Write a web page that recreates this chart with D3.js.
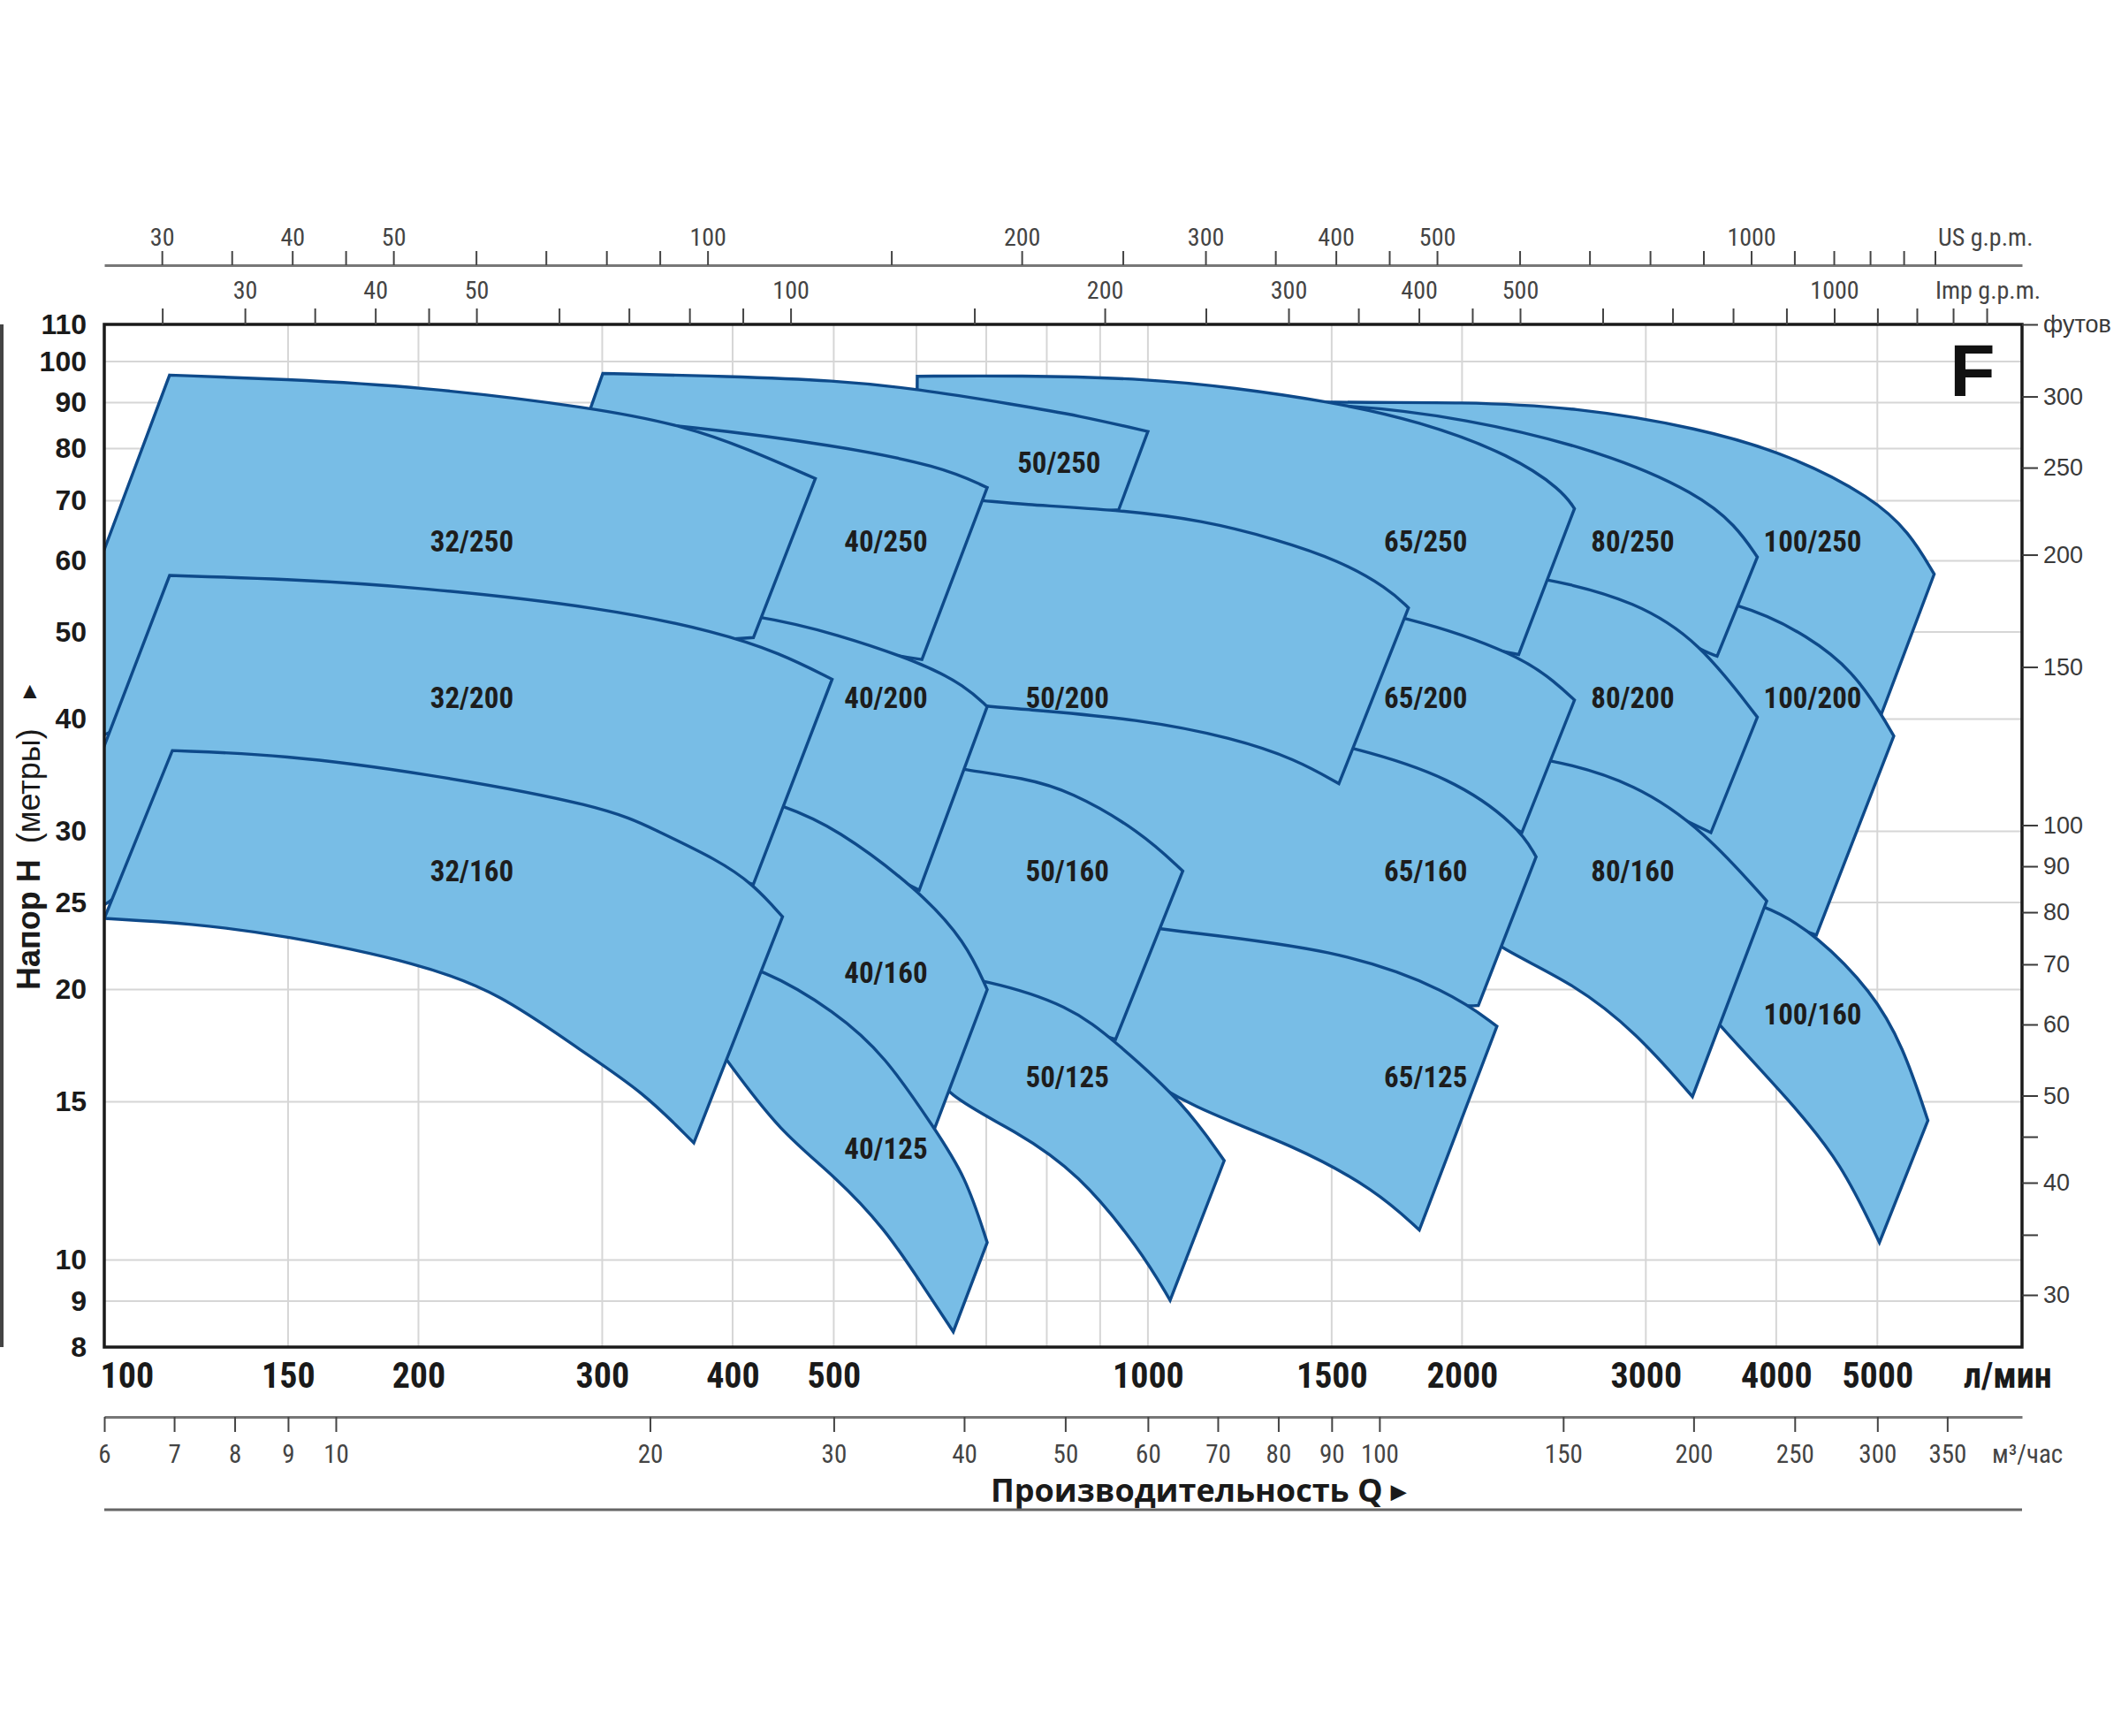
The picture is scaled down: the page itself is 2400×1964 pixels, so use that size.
<!DOCTYPE html>
<html>
<head>
<meta charset="utf-8">
<script src="https://cdn.jsdelivr.net/npm/d3@7"></script>
<style>
  body { margin: 0; background: #fff; }
</style>
</head>
<body>
<svg id="chart" width="2400" height="1964"></svg>
<script>
// ---- pump fields: [Q l/min, H m], top = max impeller, bot = right-bottom .. left-bottom
const top_32_250 = [[115.5,96.6],[148.4,95.6],[200.6,93.8],[294.2,88.9],[361.2,84.7],[414.1,79.9],[480.1,74.1]];
const bot_32_250 = [[418.8,49.3],[300,48],[200,48.5],[125,46],[100,37.3],[85,37.3]];
const top_32_200 = [[115.5,57.8],[148.4,57.3],[200.6,56.1],[302.3,53.2],[386.8,50.0],[443.6,47.4],[498.2,44.3]];
const bot_32_200 = [[418.8,26.2],[330,28],[250,30.5],[150,33],[118,30],[100,24],[86.4,24]];
const top_32_160 = [[116.2,36.9],[148.4,36.5],[200.6,34.9],[302.3,32.0],[337.3,30.1],[386.8,27.9],[418.8,26.2],[446.6,24.1]];
const bot_32_160 = [[367.2,13.5],[328.1,15.4],[286.2,17.1],[239.6,19.8],[200.6,21.4],[148.4,23.0],[120.9,23.7],[100,24.0]];

const top_40_250 = [[290,86.5],[361.3,84.8],[501.7,80.7],[633.1,76.5],[701.5,72.4]];
const bot_40_250 = [[607.4,46.6],[500,48.2],[420,51],[330,50],[270,45]];
const top_40_200 = [[330,54],[428.7,52.1],[501.7,49.8],[607.8,46.2],[668.9,43.5],[701.5,41.3]];
const bot_40_200 = [[603.8,25.8],[501.7,28.8],[449.7,31.5],[400,33],[330,40]];
const top_40_160 = [[380,34],[449.7,32.0],[501.7,30.3],[603.8,25.8],[668.9,22.6],[701.5,20.0]];
const bot_40_160 = [[624.5,14.0],[559.8,16.0],[501.7,18.0],[428.7,20.2],[380,24]];
const top_40_125 = [[370,22],[428.7,21.1],[501.7,18.9],[559.8,16.9],[624.5,14.0],[668.9,12.4],[701.5,10.46]];
const bot_40_125 = [[650.9,8.32],[607.6,9.39],[559.8,10.84],[501.7,12.39],[443.6,13.92],[397.7,16.5],[370,18.5]];

const top_50_250 = [[300.4,97.0],[397.7,96.3],[501.7,95.3],[599.4,93.3],[747.9,89.5],[857.9,87.1],[1000,83.6]];
const bot_50_250 = [[937.6,68.4],[800,67.5],[701.5,68.6],[620,65],[258,58.8]];
const top_50_200 = [[560,71.5],[701.5,70.0],[747.9,69.4],[937.6,68.4],[1128,66.6],[1329,63.4],[1524,60.1],[1700,55.9],[1777,53.2]];
const bot_50_200 = [[1524,33.9],[1385,36.1],[1208,38.1],[983.7,40.0],[747.9,41.1],[701.5,41.3],[640,42],[560,40]];
const top_50_160 = [[600,36],[668.9,35.1],[760,34.4],[841.6,33.3],[983.7,30.0],[1080,27.1]];
const bot_50_160 = [[931.1,17.6],[841.6,18.3],[701.5,19.4],[620,22],[600,25]];
const top_50_125 = [[600,21],[701.5,20.5],[841.6,19.2],[931.1,17.5],[1083,14.95],[1183.4,12.9]];
const bot_50_125 = [[1050.2,9.02],[983.3,10.27],[857.9,12.5],[747.9,13.92],[641.9,15.2],[600,17]];

const top_65_250 = [[601.2,96.3],[747.9,96.5],[1008,95.7],[1208,93.5],[1483,90.4],[1820,85.9],[2235,78.6],[2494,71.9],[2563,68.6]];
const bot_65_250 = [[2266,47.2],[2000,48.6],[1777,50.8],[1500,55],[1000,60],[700,62],[599.4,62]];
const top_65_200 = [[1000,58],[1400,54.5],[1777,52.1],[2266,47.2],[2460,43.9],[2563,42.0]];
const bot_65_200 = [[2282,29.9],[2000,32.8],[1577,36.3],[1200,42],[1000,45]];
const top_65_160 = [[640,43],[900,42.5],[1300,39],[1577.6,37.2],[1950,34.5],[2266,30.4],[2355,28.1]];
const bot_65_160 = [[2073,19.2],[1950,19.1],[1524,21.4],[1031.8,22.5],[900,25],[700,32],[640,37]];
const top_65_125 = [[880,24],[1031.8,23.3],[1524,22.2],[1950,19.9],[2160,18.2]];
const bot_65_125 = [[1820,10.8],[1654,11.96],[1385,13.4],[1097.3,14.8],[950,16.5],[880,18]];

const top_80_250 = [[1200,90],[1524,89.8],[2004,86.7],[2744,79.3],[3370,71.2],[3658,65.7],[3837,60.6]];
const bot_80_250 = [[3511,47.0],[3370,47.8],[2939,52.8],[2426,56.2],[2000,60],[1200,62]];
const top_80_200 = [[1800,60],[2426,57.5],[2939,54.0],[3370,48.9],[3837,40.2]];
const bot_80_200 = [[3463,29.9],[2939,32.8],[2433,35.2],[2100,40],[1800,45]];
const top_80_160 = [[2000,37],[2433,36.2],[2939,33.9],[3415,30.0],[3917,25.1]];
const bot_80_160 = [[3325,15.2],[2939,17.9],[2563,20.3],[2175,22.2],[2000,24]];

const top_100_250 = [[1100,91],[1524,89.9],[2004,90.2],[2563,89.0],[3370,84.4],[4140,78.6],[4942,70.6],[5366,64.6],[5668,58.0]];
const bot_100_250 = [[5044,40.5],[4745,44.0],[4311,48.2],[3698,52.7],[3000,57],[2000,60],[1100,62]];
const top_100_200 = [[3000,56],[3698,54.0],[4311,49.4],[4745,45.1],[5044,40.5],[5185,38.3]];
const bot_100_200 = [[4371,23.0],[3917,24.0],[3500,27],[3000,30]];
const top_100_160 = [[3300,26],[3917,24.9],[4371,23.0],[4942,19.9],[5292,17.3],[5590,14.3]];
const bot_100_160 = [[5023,10.46],[4616,12.84],[4140,14.95],[3535,18.2],[3300,20]];

// drawing order: bottom layer first
const pumps = [
  [top_100_250, bot_100_250], [top_100_200, bot_100_200], [top_100_160, bot_100_160],
  [top_80_250, bot_80_250], [top_80_200, bot_80_200], [top_80_160, bot_80_160],
  [top_65_250, bot_65_250], [top_65_200, bot_65_200], [top_65_160, bot_65_160], [top_65_125, bot_65_125],
  [top_50_250, bot_50_250], [top_50_200, bot_50_200], [top_50_160, bot_50_160], [top_50_125, bot_50_125],
  [top_40_250, bot_40_250], [top_40_200, bot_40_200], [top_40_160, bot_40_160], [top_40_125, bot_40_125],
  [top_32_250, bot_32_250], [top_32_200, bot_32_200], [top_32_160, bot_32_160]
];

const pumpLabels = [
  ["32/250",225,63.2], ["40/250",561,63.2], ["50/250",822,77.2], ["65/250",1846,63.2], ["80/250",2914,63.2], ["100/250",4334,63.2],
  ["32/200",225,42.3], ["40/200",561,42.3], ["50/200",837,42.3], ["65/200",1846,42.3], ["80/200",2914,42.3], ["100/200",4334,42.3],
  ["32/160",225,27.1], ["50/160",837,27.1], ["65/160",1846,27.1], ["80/160",2914,27.1],
  ["40/160",561,20.9], ["100/160",4334,18.8],
  ["50/125",837,16.0], ["65/125",1846,16.0], ["40/125",561,13.3]
];

// ---- axes
const lpmTicks = [100,150,200,300,400,500,1000,1500,2000,3000,4000,5000];
const gridQ = [150,200,300,400,500,600,700,800,900,1000,1500,2000,3000,4000,5000];
const headTicks = [110,100,90,80,70,60,50,40,30,25,20,15,10,9,8];
const gridH = [100,90,80,70,60,50,40,30,25,20,15,10,9];
const feetTicks = [300,250,200,150,100,90,80,70,60,50,45,40,35,30];
const feetLabels = [300,250,200,150,100,90,80,70,60,50,40,30];
const m3hTicks = [6,7,8,9,10,20,30,40,50,60,70,80,90,100,150,200,250,300,350];
const usTicks = [30,35,40,45,50,60,70,80,90,100,150,200,250,300,350,400,450,500,600,700,800,900,1000,1100,1200,1300,1400,1500];
const usLabels = [30,40,50,100,200,300,400,500,1000];
const impTicks = [25,30,35,40,45,50,60,70,80,90,100,150,200,250,300,350,400,450,500,600,700,800,900,1000,1100,1200,1300,1400];
const impLabels = [30,40,50,100,200,300,400,500,1000];

const LPM_PER_USGPM = 3.785, LPM_PER_IMPGPM = 4.546, M3H_PER_LPM = 0.06, FT_PER_M = 3.2808;

const narrow = "'Liberation Sans Narrow', 'Arial Narrow', 'Roboto Condensed', 'DejaVu Sans Condensed', sans-serif";
const plain = "'Liberation Sans', Arial, sans-serif";

const L = 118, R = 2288, T = 367, B = 1524;
const x = d3.scaleLog().domain([100, 6880]).range([L, R]);
const y = d3.scaleLog().domain([8, 110]).range([B, T]);
const xUS = d3.scaleLog().domain(x.domain().map(q => q / LPM_PER_USGPM)).range(x.range());
const xImp = d3.scaleLog().domain(x.domain().map(q => q / LPM_PER_IMPGPM)).range(x.range());
const xM3 = d3.scaleLog().domain(x.domain().map(q => q * M3H_PER_LPM)).range(x.range());
const yFt = d3.scaleLog().domain(y.domain().map(h => h * FT_PER_M)).range(y.range());

const svg = d3.select("#chart");

svg.append("defs").append("clipPath").attr("id", "plot")
  .append("rect").attr("x", L).attr("y", T).attr("width", R - L).attr("height", B - T);

// grid
const grid = svg.append("g").attr("stroke", "#d6d6d6").attr("stroke-width", 2);
grid.selectAll(".gx").data(gridQ).join("line")
  .attr("x1", d => x(d)).attr("x2", d => x(d)).attr("y1", T).attr("y2", B);
grid.selectAll(".gy").data(gridH).join("line")
  .attr("y1", d => y(d)).attr("y2", d => y(d)).attr("x1", L).attr("x2", R);

// pump fields: smooth curves for impeller lines, straight edges between them
const curve = d3.line()
  .x(d => x(d[0])).y(d => y(d[1]))
  .curve(d3.curveBasis);
function outline(top, bottom) {
  return curve(top) + curve(bottom).replace(/^M/, "L") + "Z";
}
svg.append("g").attr("clip-path", "url(#plot)")
  .selectAll("path").data(pumps).join("path")
  .attr("d", d => outline(d[0], d[1]))
  .attr("fill", "#78bde6")
  .attr("stroke", "#0e4a8a")
  .attr("stroke-width", 3.4)
  .attr("stroke-linejoin", "miter");

svg.append("g").selectAll("text").data(pumpLabels).join("text")
  .attr("x", d => x(d[1])).attr("y", d => y(d[2]))
  .attr("dy", "0.36em")
  .attr("text-anchor", "middle")
  .attr("font-family", narrow).attr("font-weight", "bold").attr("font-size", 33)
  .attr("fill", "#1d1d1d")
  .text(d => d[0]);

// frame
svg.append("rect").attr("x", L).attr("y", T).attr("width", R - L).attr("height", B - T)
  .attr("fill", "none").attr("stroke", "#1a1a1a").attr("stroke-width", 3.5);
svg.append("rect").attr("x", 0).attr("y", T).attr("width", 4).attr("height", B - T).attr("fill", "#444");

// left: head in metres
svg.append("g").attr("transform", `translate(${L},0)`)
  .call(d3.axisLeft(y).tickValues(headTicks).tickFormat(d3.format("d")).tickSize(0).tickPadding(20))
  .attr("font-family", plain).attr("font-weight", "bold").attr("font-size", 32).attr("color", "#1a1a1a")
  .call(g => g.select(".domain").remove());

// right: feet
svg.append("g").attr("transform", `translate(${R},0)`)
  .call(d3.axisRight(yFt).tickValues([yFt.domain()[1], ...feetTicks])
    .tickFormat(d => d === yFt.domain()[1] ? "футов" : (feetLabels.includes(d) ? d : ""))
    .tickSize(18).tickPadding(6))
  .attr("font-family", plain).attr("font-size", 27).attr("color", "#3a3a3a")
  .call(g => g.select(".domain").remove())
  .call(g => g.selectAll(".tick line").attr("stroke-width", 2));

// top: US g.p.m.
svg.append("g").attr("transform", "translate(0,300)")
  .call(d3.axisTop(xUS).tickValues(usTicks).tickFormat(d => usLabels.includes(d) ? d : "")
    .tickSize(16).tickSizeOuter(0).tickPadding(6))
  .attr("font-family", narrow).attr("font-size", 28).attr("color", "#444")
  .call(g => g.select(".domain").attr("stroke", "#777").attr("stroke-width", 3))
  .call(g => g.selectAll(".tick line").attr("stroke-width", 2));
svg.append("text").attr("x", 2193).attr("y", 278)
  .attr("font-family", narrow).attr("font-size", 28).attr("fill", "#444").text("US g.p.m.");

// top: Imp g.p.m.
svg.append("g").attr("transform", `translate(0,${T})`)
  .call(d3.axisTop(xImp).tickValues(impTicks).tickFormat(d => impLabels.includes(d) ? d : "")
    .tickSize(18).tickSizeOuter(0).tickPadding(11))
  .attr("font-family", narrow).attr("font-size", 28).attr("color", "#444")
  .call(g => g.select(".domain").remove())
  .call(g => g.selectAll(".tick line").attr("stroke-width", 2));
svg.append("text").attr("x", 2190).attr("y", 338)
  .attr("font-family", narrow).attr("font-size", 28).attr("fill", "#444").text("Imp g.p.m.");

// bottom: l/min
svg.append("g").attr("transform", `translate(0,${B})`)
  .call(d3.axisBottom(x).tickValues(lpmTicks).tickFormat(d3.format("d")).tickSize(0).tickPadding(18))
  .attr("font-family", narrow).attr("font-weight", "bold").attr("font-size", 40).attr("color", "#1a1a1a")
  .call(g => g.select(".domain").remove())
  .call(g => g.selectAll(".tick text").filter(d => d === 100).attr("text-anchor", "start").attr("x", -5));
svg.append("text").attr("x", 2222).attr("y", 1570)
  .attr("font-family", narrow).attr("font-weight", "bold").attr("font-size", 40).attr("fill", "#1a1a1a").text("л/мин");

// bottom: m3/h
svg.append("g").attr("transform", "translate(0,1603)")
  .call(d3.axisBottom(xM3).tickValues(m3hTicks).tickFormat(d3.format("d"))
    .tickSize(17).tickSizeOuter(0).tickPadding(14))
  .attr("font-family", narrow).attr("font-size", 29).attr("color", "#444")
  .call(g => g.select(".domain").attr("stroke", "#777").attr("stroke-width", 3))
  .call(g => g.selectAll(".tick line").attr("stroke-width", 2));
svg.append("text").attr("x", 2254).attr("y", 1655)
  .attr("font-family", narrow).attr("font-size", 29).attr("fill", "#444").text("м³/час");

// axis titles
const xt = svg.append("text").attr("x", 1356).attr("y", 1699).attr("text-anchor", "middle")
  .attr("font-family", "'Open Sans', sans-serif").attr("font-weight", "bold").attr("font-size", 36).attr("fill", "#1a1a1a");
xt.append("tspan").text("Производительность Q ");
xt.append("tspan").attr("font-size", 22).attr("dy", -4).text("▶");
svg.append("line").attr("x1", L).attr("x2", R).attr("y1", 1708).attr("y2", 1708)
  .attr("stroke", "#666").attr("stroke-width", 3);

const yt = svg.append("text").attr("transform", "translate(45,1120) rotate(-90)")
  .attr("font-family", plain).attr("font-size", 36).attr("fill", "#1a1a1a");
yt.append("tspan").attr("font-weight", "bold").text("Напор Н");
yt.append("tspan").attr("dx", 18).text("(метры)");
yt.append("tspan").attr("dx", 34).attr("dy", -6).attr("font-size", 20).text("▶");

svg.append("text").attr("x", 2232).attr("y", 448).attr("text-anchor", "middle")
  .attr("font-family", plain).attr("font-weight", "bold").attr("font-size", 84).attr("fill", "#111").text("F");
</script>
</body>
</html>
